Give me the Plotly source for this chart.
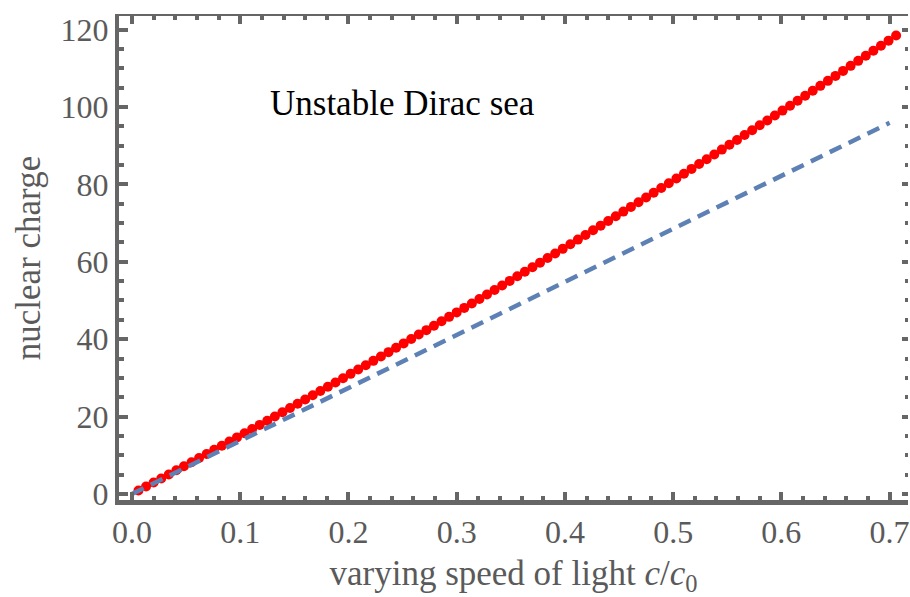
import plotly.graph_objects as go

# Critical nuclear charge vs. rescaled speed of light (computed points)
c_ratio = [
    0.006, 0.013, 0.020, 0.027, 0.034, 0.041, 0.048, 0.055, 0.062, 0.069,
    0.076, 0.083, 0.090, 0.097, 0.104, 0.111, 0.118, 0.125, 0.132, 0.139,
    0.146, 0.153, 0.160, 0.167, 0.174, 0.181, 0.188, 0.195, 0.202, 0.209,
    0.216, 0.223, 0.230, 0.237, 0.244, 0.251, 0.258, 0.265, 0.272, 0.279,
    0.286, 0.293, 0.300, 0.307, 0.314, 0.321, 0.328, 0.335, 0.342, 0.349,
    0.356, 0.363, 0.370, 0.377, 0.384, 0.391, 0.398, 0.405, 0.412, 0.419,
    0.426, 0.433, 0.440, 0.447, 0.454, 0.461, 0.468, 0.475, 0.482, 0.489,
    0.496, 0.503, 0.510, 0.517, 0.524, 0.531, 0.538, 0.545, 0.552, 0.559,
    0.566, 0.573, 0.580, 0.587, 0.594, 0.601, 0.608, 0.615, 0.622, 0.629,
    0.636, 0.643, 0.650, 0.657, 0.664, 0.671, 0.678, 0.685, 0.692, 0.699,
    0.706,
]
z_critical = [
    0.89, 1.93, 2.97, 4.02, 5.06, 6.12, 7.17, 8.22, 9.28, 10.35,
    11.41, 12.48, 13.55, 14.62, 15.69, 16.77, 17.85, 18.94, 20.02, 21.11,
    22.20, 23.30, 24.40, 25.50, 26.60, 27.71, 28.81, 29.92, 31.04, 32.16,
    33.27, 34.40, 35.52, 36.65, 37.78, 38.91, 40.05, 41.19, 42.33, 43.47,
    44.62, 45.77, 46.92, 48.08, 49.23, 50.39, 51.56, 52.72, 53.89, 55.06,
    56.24, 57.41, 58.59, 59.78, 60.96, 62.15, 63.34, 64.53, 65.73, 66.93,
    68.13, 69.33, 70.54, 71.75, 72.96, 74.18, 75.40, 76.62, 77.84, 79.07,
    80.30, 81.53, 82.76, 84.00, 85.24, 86.48, 87.73, 88.98, 90.23, 91.48,
    92.74, 94.00, 95.26, 96.52, 97.79, 99.06, 100.33, 101.61, 102.89, 104.17,
    105.45, 106.74, 108.03, 109.32, 110.62, 111.91, 113.22, 114.52, 115.82, 117.13,
    118.44,
]

# Point-nucleus reference line
ref_c = [0.0, 0.7]
ref_z = [0.0, 95.9]

x_ticks = [0.0, 0.1, 0.2, 0.3, 0.4, 0.5, 0.6, 0.7]
x_tick_text = ["0.0", "0.1", "0.2", "0.3", "0.4", "0.5", "0.6", "0.7"]
y_ticks = [0, 20, 40, 60, 80, 100, 120]

X_RANGE = [-0.0120, 0.7170]
Y_RANGE = [-1.55, 123.5]

AXIS_GRAY = "#666666"
LABEL_GRAY = "#5a5a5a"
SERIF = "Liberation Serif, Times New Roman, serif"

fig = go.Figure()

fig.add_trace(go.Scatter(
    x=c_ratio, y=z_critical, mode="markers",
    marker=dict(color="#ff0000", size=10, line=dict(width=0)),
    showlegend=False, hoverinfo="skip",
))
fig.add_trace(go.Scatter(
    x=ref_c, y=ref_z, mode="lines",
    line=dict(color="#5e81b5", width=4.5, dash="13px,8px"),
    showlegend=False, hoverinfo="skip",
))
# carrier trace for the top/right frame axes
fig.add_trace(go.Scatter(x=[], y=[], xaxis="x2", yaxis="y2",
                         showlegend=False, hoverinfo="skip"))

fig.add_annotation(
    x=0.1253, y=101, xref="x", yref="y", xanchor="left", yanchor="middle",
    text="Unstable Dirac sea", showarrow=False,
    font=dict(family=SERIF, size=35, color="#000000"),
)

tick_font = dict(family=SERIF, size=32, color=LABEL_GRAY)
title_font = dict(family=SERIF, size=35, color=LABEL_GRAY)

fig.update_layout(
    width=910, height=597,
    margin=dict(l=119, r=0, t=16, b=97, pad=0),
    paper_bgcolor="white", plot_bgcolor="white",
    xaxis=dict(
        range=X_RANGE, tickmode="array", tickvals=x_ticks, ticktext=x_tick_text,
        showgrid=False, zeroline=False,
        showline=True, linecolor=AXIS_GRAY, linewidth=5,
        ticks="inside", ticklen=8, tickwidth=3.5, tickcolor=AXIS_GRAY,
        minor=dict(dtick=0.02, tick0=0, ticks="inside", ticklen=4,
                   tickwidth=3.5, tickcolor=AXIS_GRAY, showgrid=False),
        tickfont=tick_font, ticklabeloverflow="allow",
        title=dict(text="varying speed of light <i>c</i>/<i>c</i><sub>0</sub>",
                   font=title_font, standoff=14),
    ),
    yaxis=dict(
        range=Y_RANGE, tickmode="array", tickvals=y_ticks,
        showgrid=False, zeroline=False,
        showline=True, linecolor=AXIS_GRAY, linewidth=4,
        ticks="inside", ticklen=9, tickwidth=3.5, tickcolor=AXIS_GRAY,
        minor=dict(dtick=5, tick0=0, ticks="inside", ticklen=4.5,
                   tickwidth=3.5, tickcolor=AXIS_GRAY, showgrid=False),
        tickfont=tick_font, ticklabeloverflow="allow",
        title=dict(text="nuclear charge", font=title_font, standoff=10),
    ),
    xaxis2=dict(
        overlaying="x", side="top", range=X_RANGE,
        tickmode="array", tickvals=x_ticks, showticklabels=False,
        showgrid=False, zeroline=False,
        showline=True, linecolor=AXIS_GRAY, linewidth=2,
        ticks="inside", ticklen=8, tickwidth=3.5, tickcolor=AXIS_GRAY,
        minor=dict(dtick=0.02, tick0=0, ticks="inside", ticklen=4,
                   tickwidth=3.5, tickcolor=AXIS_GRAY, showgrid=False),
    ),
    yaxis2=dict(
        overlaying="y", side="right", range=Y_RANGE,
        tickmode="array", tickvals=y_ticks, showticklabels=False,
        showgrid=False, zeroline=False, showline=False,
        ticks="inside", ticklen=6, tickwidth=3.5, tickcolor=AXIS_GRAY,
        minor=dict(dtick=5, tick0=0, ticks="inside", ticklen=3,
                   tickwidth=3.5, tickcolor=AXIS_GRAY, showgrid=False),
    ),
)

fig.write_html("out.html")
